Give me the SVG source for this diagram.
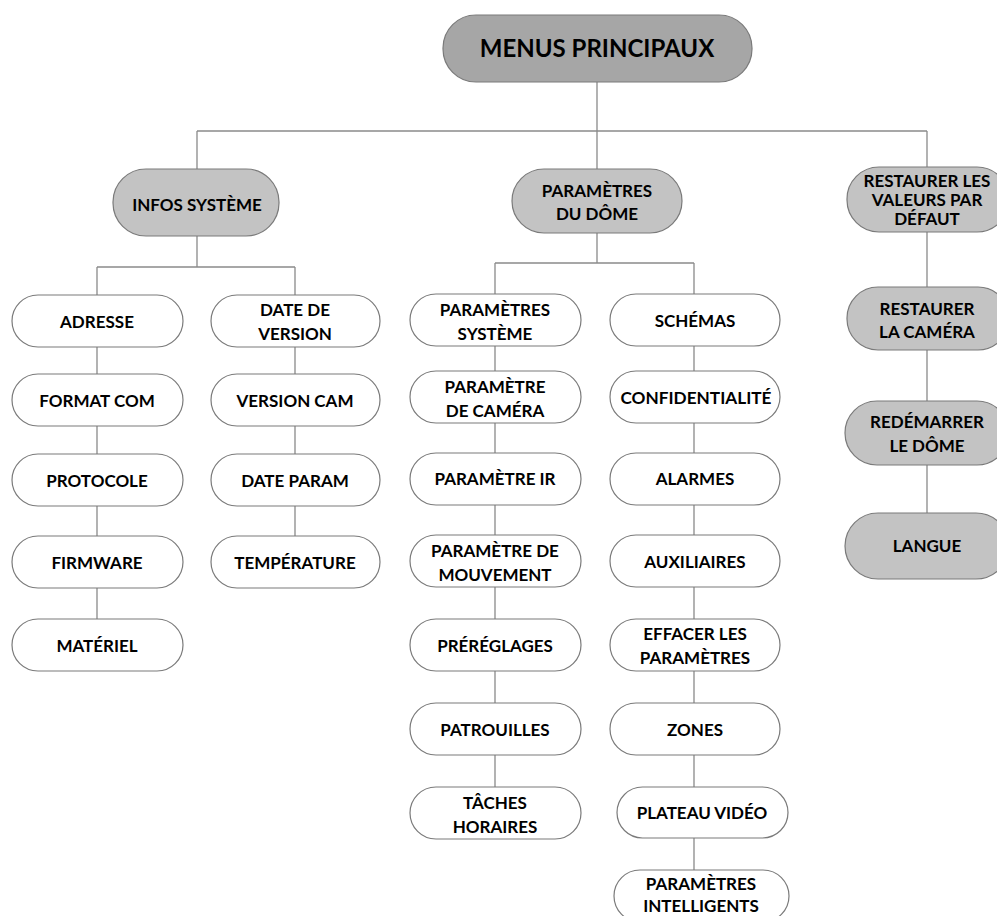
<svg xmlns="http://www.w3.org/2000/svg" width="997" height="916" viewBox="0 0 997 916">
<style>
.b{fill:#fff;stroke:#7a7a7a;stroke-width:1.2}
.g1{fill:#a6a6a6;stroke:#7a7a7a;stroke-width:1.2}
.g2{fill:#c3c3c3;stroke:#7a7a7a;stroke-width:1.2}
text{font-family:Lato,"Liberation Sans",sans-serif;font-weight:bold;font-size:17px;fill:#000;text-anchor:middle}
.big{font-size:24px}
#connectors path{fill:none;stroke:#8a8a8a;stroke-width:1.3}
</style>
<rect width="997" height="916" fill="#fff"/>
<g id="connectors">
<path d="M597 82V131M197 131H927M197 131V169M597 131V169M927 131V167"/>
<path d="M197 236V267M97 267H295M97 267V295M295 267V295"/>
<path d="M97 346V374M97 426V454M97 506V536M97 587V619"/>
<path d="M295 346V374M295 426V454M295 506V536"/>
<path d="M597 233V263M495 263H694M495 263V294M694 263V294"/>
<path d="M495 346V371M495 423V453M495 505V535M495 587V619M495 671V703M495 755V787"/>
<path d="M694 346V371M694 423V453M694 505V535M694 587V619M694 671V703M694 755V787M694 838V870"/>
<path d="M927 232V287M927 350V401M927 465V513"/>
</g>
<g id="menus"><rect class="g1" x="443" y="15" width="309" height="67" rx="33"/><text class="big" x="597" y="57">MENUS PRINCIPAUX</text></g>
<g id="infos"><rect class="g2" x="113" y="169" width="166" height="67" rx="33"/><text x="197" y="211">INFOS SYSTÈME</text></g>
<g id="dome"><rect class="g2" x="512" y="169" width="170" height="64" rx="32"/><text x="597" y="197">PARAMÈTRES</text><text x="597" y="220">DU DÔME</text></g>
<g id="restaurer-defaut"><rect class="g2" x="847" y="167" width="162" height="65" rx="32"/><text x="927" y="187">RESTAURER LES</text><text x="927" y="206">VALEURS PAR</text><text x="927" y="225">DÉFAUT</text></g>

<g id="adresse"><rect class="b" x="12" y="295" width="171" height="52" rx="26"/><text x="97" y="328">ADRESSE</text></g>
<g id="format"><rect class="b" x="12" y="374" width="171" height="52" rx="26"/><text x="97" y="407">FORMAT COM</text></g>
<g id="protocole"><rect class="b" x="12" y="454" width="171" height="52" rx="26"/><text x="97" y="487">PROTOCOLE</text></g>
<g id="firmware"><rect class="b" x="12" y="536" width="171" height="52" rx="26"/><text x="97" y="569">FIRMWARE</text></g>
<g id="materiel"><rect class="b" x="12" y="619" width="171" height="52" rx="26"/><text x="97" y="652">MATÉRIEL</text></g>

<g id="date-version"><rect class="b" x="211" y="295" width="169" height="52" rx="26"/><text x="295" y="316">DATE DE</text><text x="295" y="340">VERSION</text></g>
<g id="version-cam"><rect class="b" x="211" y="374" width="169" height="52" rx="26"/><text x="295" y="407">VERSION CAM</text></g>
<g id="date-param"><rect class="b" x="211" y="454" width="169" height="52" rx="26"/><text x="295" y="487">DATE PARAM</text></g>
<g id="temperature"><rect class="b" x="211" y="536" width="169" height="52" rx="26"/><text x="295" y="569">TEMPÉRATURE</text></g>

<g id="param-systeme"><rect class="b" x="410" y="294" width="171" height="52" rx="26"/><text x="495" y="316">PARAMÈTRES</text><text x="495" y="340">SYSTÈME</text></g>
<g id="param-camera"><rect class="b" x="410" y="371" width="171" height="52" rx="26"/><text x="495" y="393">PARAMÈTRE</text><text x="495" y="417">DE CAMÉRA</text></g>
<g id="param-ir"><rect class="b" x="410" y="453" width="171" height="52" rx="26"/><text x="495" y="485">PARAMÈTRE IR</text></g>
<g id="param-mouvement"><rect class="b" x="410" y="535" width="171" height="52" rx="26"/><text x="495" y="557">PARAMÈTRE DE</text><text x="495" y="581">MOUVEMENT</text></g>
<g id="prereglages"><rect class="b" x="410" y="619" width="171" height="52" rx="26"/><text x="495" y="652">PRÉRÉGLAGES</text></g>
<g id="patrouilles"><rect class="b" x="410" y="703" width="171" height="52" rx="26"/><text x="495" y="736">PATROUILLES</text></g>
<g id="taches"><rect class="b" x="410" y="787" width="171" height="52" rx="26"/><text x="495" y="809">TÂCHES</text><text x="495" y="833">HORAIRES</text></g>

<g id="schemas"><rect class="b" x="610" y="294" width="170" height="52" rx="26"/><text x="695" y="327">SCHÉMAS</text></g>
<g id="confidentialite"><rect class="b" x="610" y="371" width="170" height="52" rx="26"/><text x="696" y="404" textLength="151" lengthAdjust="spacingAndGlyphs">CONFIDENTIALITÉ</text></g>
<g id="alarmes"><rect class="b" x="610" y="453" width="170" height="52" rx="26"/><text x="695" y="485">ALARMES</text></g>
<g id="auxiliaires"><rect class="b" x="610" y="535" width="170" height="52" rx="26"/><text x="695" y="568">AUXILIAIRES</text></g>
<g id="effacer"><rect class="b" x="610" y="619" width="170" height="52" rx="26"/><text x="695" y="640">EFFACER LES</text><text x="695" y="664">PARAMÈTRES</text></g>
<g id="zones"><rect class="b" x="610" y="703" width="170" height="52" rx="26"/><text x="695" y="736">ZONES</text></g>
<g id="plateau"><rect class="b" x="617" y="787" width="171" height="51" rx="25.5"/><text x="702" y="819">PLATEAU VIDÉO</text></g>
<g id="param-intelligents"><rect class="b" x="614" y="870" width="175" height="52" rx="26"/><text x="701" y="890">PARAMÈTRES</text><text x="701" y="912">INTELLIGENTS</text></g>

<g id="restaurer-camera"><rect class="g2" x="847" y="287" width="162" height="63" rx="31"/><text x="927" y="315">RESTAURER</text><text x="927" y="338">LA CAMÉRA</text></g>
<g id="redemarrer"><rect class="g2" x="845" y="401" width="164" height="64" rx="32"/><text x="927" y="428">REDÉMARRER</text><text x="927" y="452">LE DÔME</text></g>
<g id="langue"><rect class="g2" x="845" y="513" width="164" height="66" rx="33"/><text x="927" y="552">LANGUE</text></g>
</svg>
